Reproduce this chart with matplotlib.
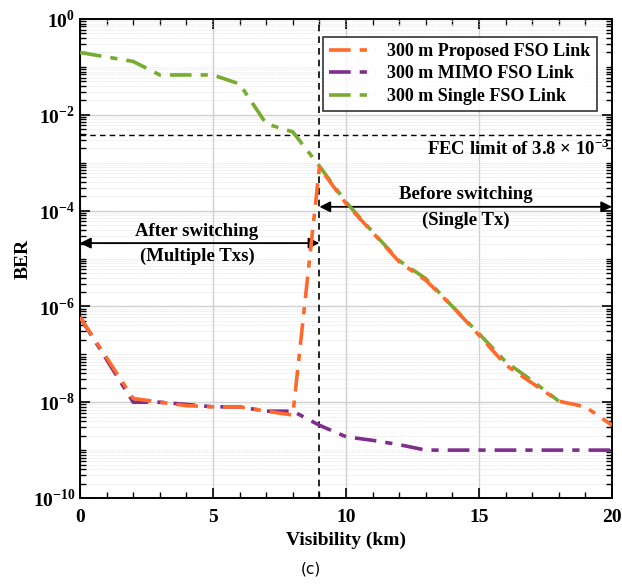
import matplotlib

matplotlib.use("Agg")

import matplotlib.pyplot as plt
from matplotlib.ticker import LogLocator, NullFormatter, FixedLocator

# visibility (km)
vis = [0, 2, 3, 4, 5, 6, 7, 8, 9, 10, 11, 12, 13, 14, 15, 16, 17, 18, 19, 20]

ber_proposed = [6e-7, 1.2e-8, 1.0e-8, 8.5e-9, 8e-9, 8e-9, 6.5e-9, 5.4e-9, 8e-4,
                1.4e-4, 3.5e-5, 8.5e-6, 3.5e-6, 1.0e-6, 2.5e-7, 6e-8, 2.5e-8,
                1.05e-8, 8e-9, 3.3e-9]
ber_mimo = [6e-7, 1.0e-8, 1.0e-8, 9e-9, 8e-9, 8e-9, 6.5e-9, 6.5e-9, 3.3e-9,
            1.9e-9, 1.6e-9, 1.3e-9, 1.0e-9, 1.0e-9, 1.0e-9, 1.0e-9, 1.0e-9,
            1.0e-9, 1.0e-9, 1.0e-9]
vis_single = [0, 2, 3, 4, 5, 6, 7, 8, 9, 10, 11, 12, 13, 14, 15, 16, 17, 18]
ber_single = [0.2, 0.13, 0.068, 0.068, 0.068, 0.044, 0.0065, 0.0044, 8.5e-4,
              1.5e-4, 3.6e-5, 9e-6, 3.8e-6, 1.0e-6, 2.7e-7, 7e-8, 2.8e-8, 1.05e-8]

fec_limit = 3.8e-3
switch_vis = 9

plt.rcParams["font.family"] = ["Liberation Serif", "DejaVu Serif"]
plt.rcParams["font.weight"] = "bold"
plt.rcParams["mathtext.fontset"] = "custom"
plt.rcParams["mathtext.rm"] = "Liberation Serif:bold"
plt.rcParams["mathtext.bf"] = "Liberation Serif:bold"

fig = plt.figure(figsize=(6.22, 5.87), dpi=100)
ax = fig.add_axes([0.1286, 0.1516, 0.8554, 0.816])

dash = (0, (6, 2.5, 2, 2.5))
ax.semilogy(vis, ber_proposed, color="#FF6A2B", lw=2.6, linestyle=dash,
            label="300 m Proposed FSO Link", zorder=4)
ax.semilogy(vis, ber_mimo, color="#7E2F8E", lw=2.6, linestyle=dash,
            label="300 m MIMO FSO Link", zorder=3)
ax.semilogy(vis_single, ber_single, color="#77AC30", lw=2.6, linestyle=dash,
            label="300 m Single FSO Link", zorder=3.5)

ax.axhline(fec_limit, color="black", lw=1.0, linestyle=(0, (4, 3)), zorder=2)
ax.axvline(switch_vis, color="black", lw=1.2, linestyle=(0, (4, 3)), zorder=2)

ax.set_xlim(0, 20)
ax.set_ylim(1e-10, 1)
ax.set_xticks([0, 5, 10, 15, 20])
ax.xaxis.set_minor_locator(FixedLocator(range(0, 21)))
ax.set_yticks([10.0 ** k for k in range(-10, 1, 2)])
ax.set_yticklabels([f"$10^{{{k}}}$" for k in range(-10, 1, 2)])
ax.yaxis.set_minor_locator(LogLocator(base=10, subs=[1, 2, 3, 4, 5, 6, 7, 8, 9], numticks=50))
ax.yaxis.set_minor_formatter(NullFormatter())

ax.tick_params(which="both", direction="in", top=True, right=True, labelsize=14)
ax.tick_params(axis="x", which="major", pad=8)
ax.tick_params(which="major", length=7, width=1.2)
ax.tick_params(which="minor", length=4, width=1.0)
ax.grid(True, which="major", color="#d0d0d0", lw=1.0)
ax.grid(True, which="minor", axis="y", color="#e4e4e4", lw=0.6, linestyle=(0, (1, 1)))
for s in ax.spines.values():
    s.set_linewidth(1.4)

ax.set_xlabel("Visibility (km)", fontsize=14, fontweight="bold", labelpad=4)
ax.set_ylabel("BER", fontsize=14, fontweight="bold", labelpad=1)

# switching annotations
ax.annotate("", xy=(0, 2.1e-5), xytext=(switch_vis, 2.1e-5),
            arrowprops=dict(arrowstyle="<|-|>", color="black", lw=1.3,
                            mutation_scale=16, shrinkA=0, shrinkB=0))
ax.text(4.4, 3.6e-5, "After switching", ha="center", va="center", fontsize=13.5)
ax.text(4.4, 1.1e-5, "(Multiple Txs)", ha="center", va="center", fontsize=13.5)

ax.annotate("", xy=(switch_vis, 1.2e-4), xytext=(20, 1.2e-4),
            arrowprops=dict(arrowstyle="<|-|>", color="black", lw=1.3,
                            mutation_scale=16, shrinkA=0, shrinkB=0))
ax.text(14.5, 2.2e-4, "Before switching", ha="center", va="center", fontsize=13.5)
ax.text(14.5, 6.3e-5, "(Single Tx)", ha="center", va="center", fontsize=13.5)

ax.text(19.9, 2.0e-3, r"FEC limit of 3.8 $\times$ 10$^{-3}$", ha="right",
        va="center", fontsize=13.5)

leg = ax.legend(loc="upper right", bbox_to_anchor=(0.988, 0.982), fontsize=13,
                frameon=True, fancybox=False, edgecolor="black",
                handlelength=2.6, borderpad=0.35, labelspacing=0.3,
                handletextpad=0.6)
leg.get_frame().set_linewidth(1.2)
leg.set_zorder(10)

fig.text(0.5, 0.018, "(c)", ha="center", va="bottom", fontsize=11,
         family="DejaVu Sans", fontweight="normal")

fig.savefig("out.png", dpi=100)
plt.close(fig)
